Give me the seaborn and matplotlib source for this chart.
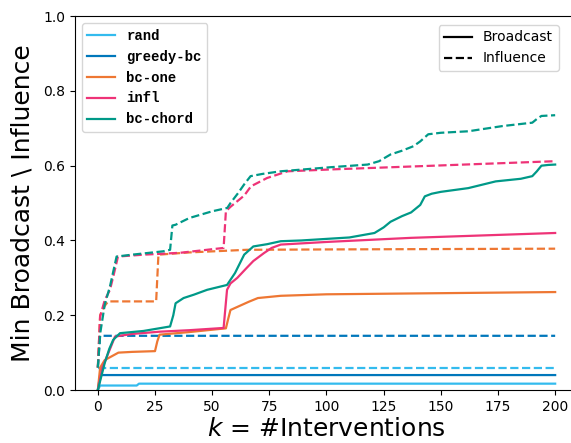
import matplotlib
matplotlib.use("Agg")
import matplotlib.pyplot as plt
from matplotlib.lines import Line2D
import numpy as np
import pandas as pd
import seaborn as sns

methods = ["rand", "greedy-bc", "bc-one", "infl", "bc-chord"]
colors = ["#33BBEE", "#0077BB", "#EE7733", "#EE3377", "#009988"]
kinds = ["Broadcast", "Influence"]

# (k, value) breakpoints for each method and objective
rand_bc_k = [0, 1, 17, 18, 200]
rand_bc_v = [0.0, 0.012, 0.012, 0.017, 0.017]
rand_inf_k = [0, 1, 200]
rand_inf_v = [0.06, 0.06, 0.06]

greedy_bc_k = [0, 1, 200]
greedy_bc_v = [0.0, 0.04, 0.04]
greedy_inf_k = [0, 1, 200]
greedy_inf_v = [0.06, 0.145, 0.145]

one_bc_k = [0, 1, 3, 6, 9, 15, 25, 26, 27, 40, 56, 57, 58, 62, 66, 70, 80, 100, 150, 200]
one_bc_v = [0.0, 0.06, 0.08, 0.09, 0.1, 0.102, 0.104, 0.13, 0.148, 0.155, 0.165, 0.19, 0.214, 0.225, 0.236, 0.246, 0.252, 0.256, 0.259, 0.262]
one_inf_k = [0, 1, 3, 4.5, 25.5, 26.5, 40, 65, 100, 200]
one_inf_v = [0.06, 0.2, 0.225, 0.237, 0.237, 0.362, 0.368, 0.375, 0.376, 0.378]

infl_bc_k = [0, 2, 4, 6, 7.5, 15, 27, 40, 55, 56.5, 58, 61, 65, 68, 72.6, 76, 80, 100, 137, 200]
infl_bc_v = [0.0, 0.06, 0.09, 0.12, 0.143, 0.15, 0.156, 0.16, 0.166, 0.268, 0.285, 0.3, 0.326, 0.345, 0.366, 0.38, 0.389, 0.396, 0.407, 0.42]
infl_inf_k = [0, 1, 3, 5.3, 7, 8.8, 20, 36, 55, 56, 58, 61, 64, 67, 74, 83, 102, 147, 200]
infl_inf_v = [0.06, 0.197, 0.24, 0.268, 0.31, 0.357, 0.362, 0.367, 0.38, 0.478, 0.49, 0.505, 0.52, 0.545, 0.567, 0.585, 0.59, 0.6, 0.612]

chord_bc_k = [0, 3, 5, 6.7, 9.7, 20, 31.6, 33, 34, 37.5, 42, 47.8, 56.5, 60, 64, 68, 74, 80, 89, 110, 121, 125, 128, 133, 137, 141, 143, 146, 150, 162, 174, 185, 190, 192, 194, 197, 200]
chord_bc_v = [0.0, 0.072, 0.11, 0.134, 0.152, 0.158, 0.17, 0.2, 0.232, 0.246, 0.255, 0.268, 0.281, 0.313, 0.362, 0.384, 0.39, 0.398, 0.4, 0.408, 0.42, 0.435, 0.45, 0.465, 0.475, 0.495, 0.518, 0.525, 0.53, 0.54, 0.558, 0.565, 0.572, 0.585, 0.6, 0.602, 0.603]
chord_inf_k = [0, 1, 3, 5.3, 8.2, 15, 28.6, 31.6, 32.6, 34, 40, 50, 56.6, 58, 61.5, 64, 66.8, 72, 80, 102, 118, 123, 128, 133, 138, 141, 144.5, 150, 162, 177, 190, 192, 194, 200]
chord_inf_v = [0.06, 0.15, 0.228, 0.277, 0.357, 0.362, 0.371, 0.375, 0.44, 0.442, 0.46, 0.478, 0.487, 0.5, 0.528, 0.55, 0.572, 0.578, 0.585, 0.596, 0.603, 0.612, 0.63, 0.64, 0.652, 0.665, 0.684, 0.688, 0.692, 0.706, 0.715, 0.725, 0.733, 0.735]

series = {
    ("rand", "Broadcast"): (rand_bc_k, rand_bc_v),
    ("rand", "Influence"): (rand_inf_k, rand_inf_v),
    ("greedy-bc", "Broadcast"): (greedy_bc_k, greedy_bc_v),
    ("greedy-bc", "Influence"): (greedy_inf_k, greedy_inf_v),
    ("bc-one", "Broadcast"): (one_bc_k, one_bc_v),
    ("bc-one", "Influence"): (one_inf_k, one_inf_v),
    ("infl", "Broadcast"): (infl_bc_k, infl_bc_v),
    ("infl", "Influence"): (infl_inf_k, infl_inf_v),
    ("bc-chord", "Broadcast"): (chord_bc_k, chord_bc_v),
    ("bc-chord", "Influence"): (chord_inf_k, chord_inf_v),
}

rows = []
for (m, kind), (ks, vs) in series.items():
    for k, v in zip(ks, vs):
        rows.append({"k": k, "value": v, "method": m, "objective": kind})
df = pd.DataFrame(rows)

plt.rcParams["font.family"] = ["DejaVu Sans"]
fig = plt.figure(figsize=(5.71, 4.43), dpi=100)
ax = fig.add_axes([0.1313, 0.1196, 0.881, 0.844])

sns.lineplot(
    data=df, x="k", y="value", hue="method", style="objective",
    hue_order=methods, style_order=kinds, palette=colors,
    dashes={"Broadcast": "", "Influence": (3.7, 1.6)},
    linewidth=1.6, estimator=None, sort=False, ax=ax, legend=False,
)

ax.set_xlim(-10, 210)
ax.set_ylim(0, 1.0)
ax.set_xticks(np.arange(0, 201, 25))
ax.set_yticks(np.arange(0, 1.01, 0.2))
ax.set_xlabel("$k$ = #Interventions", fontsize=18, labelpad=2)
ax.set_ylabel("Min Broadcast \\ Influence", fontsize=18, labelpad=6)
ax.tick_params(labelsize=10)

method_handles = [Line2D([], [], color=c, lw=1.6) for c in colors]
leg1 = ax.legend(method_handles, methods, loc="upper left",
                 prop={"family": "Liberation Mono", "weight": "bold", "size": 10})
ax.add_artist(leg1)

kind_handles = [Line2D([], [], color="black", lw=1.6),
                Line2D([], [], color="black", lw=1.6, ls=(0, (3.7, 1.6)))]
ax.legend(kind_handles, kinds, loc="upper right",
          bbox_to_anchor=(0.975, 0.995), fontsize=10)

fig.savefig("out.png", dpi=100)
